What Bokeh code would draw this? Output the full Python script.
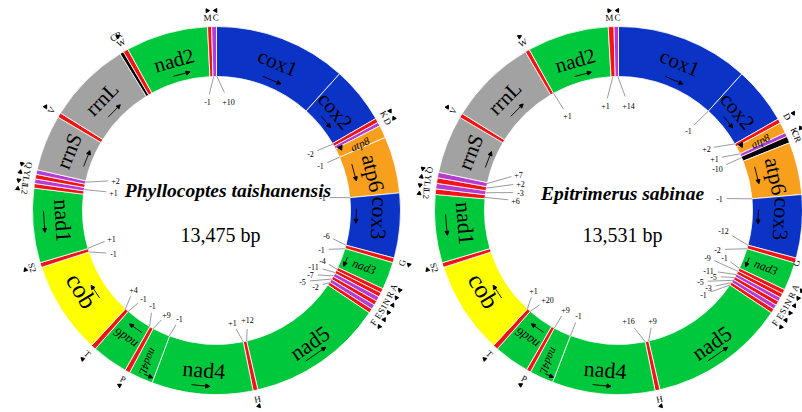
import math
from bokeh.plotting import figure
from bokeh.models import Range1d, ColumnDataSource, Arrow, NormalHead
from bokeh.core.properties import value
from bokeh.embed import file_html
from bokeh.resources import INLINE

# ======================= DATA =======================
# Map positions are read off the circles: degrees clockwise from the top (0 = start of cox1).
GENES = ["cox1", "cox2", "atp8", "atp6", "cox3", "nad3", "nad5", "nad4",
         "nad4L", "nad6", "cob", "nad1", "rrnS", "rrnL", "nad2"]
GENE_STRAND = [1, 1, 1, 1, 1, 1, -1, -1, -1, 1, 1, -1, 1, 1, 1]

# --- Phyllocoptes taishanensis ---
A_species = "Phyllocoptes taishanensis"
A_length = "13,475 bp"
A_feature = ["cox1", "cox2", "K", "D", "atp8", "atp6", "cox3", "G", "nad3",
             "A", "R", "N", "S1", "E", "F", "nad5", "H", "nad4", "nad4L", "P",
             "nad6", "T", "cob", "S2", "nad1", "L2", "L1", "Y", "Q", "rrnS",
             "V", "rrnL", "CR", "W", "nad2", "M", "C"]
A_type = ["cox", "cox", "trnJ", "trnN", "atp", "atp", "cox", "trnJ", "nad",
          "trnJ", "trnJ", "trnN", "trnJ", "trnN", "trnJ", "nad", "trnJ", "nad", "nad", "trnJ",
          "nad", "trnJ", "cob", "trnJ", "nad", "trnJ", "trnN", "trnJ", "trnN", "rrn",
          "trnJ", "rrn", "cr", "trnJ", "nad", "trnJ", "trnN"]
A_start = [0.0, 42.0, 60.0, 61.4, 62.6, 66.6, 84.5, 105.0, 106.5,
           115.2, 116.6, 118.0, 119.5, 120.9, 122.4, 123.8, 167.0, 168.5, 200.5, 208.2,
           209.8, 221.2, 222.8, 252.0, 253.5, 277.0, 278.45, 279.9, 281.35, 282.8,
           300.5, 302.0, 328.4, 329.6, 331.2, 357.2, 358.5]
A_gap_value = [-1, 10, -2, -1, -1, -6, -1, -4, -11, -7, -5, -2, 1, 12, 4, -1, -1, 9, -1, 1, -1, 2, 1]
A_gap_pos = [358.8, 0.2, 60.3, 66.6, 84.5, 105.0, 106.6, 116.0, 117.6, 119.2, 120.8, 122.6,
             168.5, 167.0, 222.8, 221.2, 210.0, 208.2, 200.6, 253.6, 252.0, 282.2, 279.0]

# --- Epitrimerus sabinae ---
B_species = "Epitrimerus sabinae"
B_length = "13,531 bp"
B_feature = ["cox1", "cox2", "D", "atp8", "K", "CR", "atp6", "cox3", "G", "nad3",
             "A", "R", "N", "S1", "E", "F", "nad5", "H", "nad4", "nad4L", "P",
             "nad6", "T", "cob", "S2", "nad1", "L2", "L1", "Y", "Q", "rrnS",
             "V", "rrnL", "W", "nad2", "M", "C"]
B_type = ["cox", "cox", "trnJ", "atp", "trnN", "cr", "atp", "cox", "trnJ", "nad",
          "trnJ", "trnJ", "trnN", "trnJ", "trnN", "trnJ", "nad", "trnJ", "nad", "nad", "trnJ",
          "nad", "trnJ", "cob", "trnJ", "nad", "trnJ", "trnN", "trnJ", "trnN", "rrn",
          "trnJ", "rrn", "trnJ", "nad", "trnJ", "trnN"]
B_start = [0.0, 42.1, 60.2, 61.6, 65.0, 66.3, 68.4, 85.0, 105.0, 106.6,
           115.5, 116.9, 118.3, 119.6, 121.0, 122.4, 123.8, 167.0, 168.5, 201.0, 208.6,
           210.0, 221.2, 222.8, 252.0, 253.5, 275.0, 276.75, 278.5, 280.25, 282.0,
           300.4, 301.8, 329.6, 331.0, 356.8, 358.6]
B_gap_value = [1, 14, -1, 2, 1, -10, -1, -12, -2, -1, -9, -11, -5, -5, -3, -1,
               16, 9, 1, 20, 9, -1, 1, 7, 2, -3, 6]
B_gap_pos = [357.6, 359.7, 42.1, 60.2, 65.0, 66.8, 85.0, 105.0, 106.6, 115.6, 117.0, 118.6,
             120.0, 121.4, 122.6, 123.8, 168.5, 167.0, 222.8, 221.2, 208.6, 201.0,
             331.0, 281.6, 279.6, 277.6, 275.6]

# ======================= LAYOUT / STYLE =======================
WIDTH, HEIGHT = 802, 412
R_IN, R_OUT = 134, 184
SERIF = value("Liberation Serif")
COLORS = {"cox": "#0b34c6", "nad": "#00c83c", "atp": "#f8a01e", "cob": "#ffff00",
          "rrn": "#a2a2a2", "trnJ": "#f01414", "trnN": "#b43cd2", "cr": "#000000"}

# gene label: mode, text radius, font px, italic, text shift (deg), arrow radius, arrow span (deg), arrow shift (deg)
GENE_LAYOUT = {
    "cox1": ("cw", 160, 21, False, 1.5, 142, 8, 2.0),
    "cox2": ("cw", 155, 21, False, -1.0, 141, 6, 0.0),
    "atp8": ("radial", 158, 11, True, 0.5, 139, 0, 0.0),
    "atp6": ("cw", 161, 22, False, 1.0, 143, 7, -1.0),
    "cox3": ("cw", 163, 22, False, -2.0, 140, 6, -2.5),
    "nad3": ("radial", 158, 12, True, 0.0, 139, 4, 0.8),
    "nad5": ("flip", 162, 22, False, -0.5, 175, 8, 0.0),
    "nad4": ("flip", 160, 22, False, 0.0, 176, 6, 0.7),
    "nad4L": ("radial", 166, 11, True, 0.0, 179, 3, -2.0),
    "nad6": ("cw", 157, 13, True, 0.0, 143, 6, -1.0),
    "cob": ("flip", 157, 25, False, 1.8, 146, 6, -1.2),
    "nad1": ("flip", 154, 22, False, 1.0, 173, 7, 1.0),
    "rrnS": ("cw", 159, 21, False, 0.3, 140, 7, 0.2),
    "rrnL": ("cw", 160, 21, False, -1.0, 143, 7, -1.0),
    "nad2": ("cw", 156, 21, False, 0.0, 141, 7, 1.5),
}

# spacer-number placements (pixel offsets from ring centre, x right / y down)
A_gap_xy = [(-9, -109), (12, -109), (94, -57), (104, -45), (106, -13), (110, 25), (105, 39),
            (106, 50), (97, 56), (94, 64), (86, 71), (99, 76), (16, 112), (31, 109),
            (-83, 79), (-73, 88), (-64, 95), (-50, 104), (-37, 108), (-105, 28), (-103, 43),
            (-101, -30), (-103, -18)]
B_gap_xy = [(-13, -105), (10, -105), (70, -80), (88, -62), (96, -52), (99, -42), (101, -12),
            (105, 20), (99, 39), (106, 47), (89, 47), (90, 60), (95, 66), (82, 71), (90, 77),
            (85, 84), (10, 110), (34, 110), (-85, 80), (-71, 89), (-53, 99), (-40, 105),
            (-51, -95), (-100, -36), (-98, -27), (-98, -18), (-103, -10)]

p = figure(width=WIDTH, height=HEIGHT, x_range=Range1d(0, WIDTH), y_range=Range1d(0, HEIGHT),
           x_axis_type=None, y_axis_type=None, toolbar_location=None, output_backend="svg",
           min_border=0, outline_line_color=None)
p.background_fill_color = "white"
p.border_fill_color = "white"


def pt(c, r, th):
    t = math.radians(th)
    return c[0] + r * math.sin(t), c[1] + r * math.cos(t)


def draw(c, feature, ftype, start, gap_value, gap_pos, gap_xy, species, length, sp_dx, sp_dy):
    n = len(feature)
    end = start[1:] + [360.0]
    p.annular_wedge(x=[c[0]] * n, y=[c[1]] * n, inner_radius=R_IN, outer_radius=R_OUT,
                    start_angle=[math.radians(90 - e) for e in end],
                    end_angle=[math.radians(90 - s) for s in start],
                    direction="anticlock", fill_color=[COLORS[t] for t in ftype],
                    line_color="white", line_width=0.8)

    # gene names and strand arrows
    arr = dict(x0=[], y0=[], x1=[], y1=[])
    for i, name in enumerate(feature):
        if name not in GENES:
            continue
        mid = (start[i] + end[i]) / 2
        mode, tr, fs, it, dt, ar, span, da = GENE_LAYOUT[name]
        th = mid + dt
        x, y = pt(c, tr, th)
        ang = -th if mode == "cw" else (180 - th if mode == "flip" else 90 - th)
        p.text(x=[x], y=[y], text=[name], angle=math.radians(ang), text_align="center",
               text_baseline="middle", text_font=SERIF, text_font_size=f"{fs}px",
               text_font_style="italic" if it else "normal", text_color="black")
        strand = GENE_STRAND[GENES.index(name)]
        tha = mid + da
        if span > 0:
            x0, y0 = pt(c, ar, tha - strand * span / 2)
            x1, y1 = pt(c, ar, tha + strand * span / 2)
            arr["x0"].append(x0); arr["y0"].append(y0)
            arr["x1"].append(x1); arr["y1"].append(y1)
        else:
            tx, ty = pt(c, ar, tha - 1.5)
            ta = (-tha - 90) if strand > 0 else (90 - tha)
            p.scatter(x=[tx], y=[ty], marker="triangle", size=5, angle=math.radians(ta),
                      fill_color="black", line_color="black")
    p.add_layout(Arrow(end=NormalHead(size=4, fill_color="black", line_color="black", line_width=1),
                       x_start="x0", y_start="y0", x_end="x1", y_end="y1",
                       source=ColumnDataSource(arr), line_color="black", line_width=0.9))

    # tRNA / control region labels outside the ring
    small = [i for i, t in enumerate(ftype) if t in ("trnJ", "trnN")]
    groups = []
    for i in small:
        if groups and groups[-1][-1] == i - 1:
            groups[-1].append(i)
        else:
            groups.append([i])
    placed = []
    for g in groups:
        mids = [(start[i] + end[i]) / 2 for i in g]
        cen = sum(mids) / len(mids)
        for k, i in enumerate(g):
            placed.append((i, cen + (k - (len(g) - 1) / 2) * 2.4, 193))
    for i, t in enumerate(ftype):
        if t == "cr":
            placed.append((i, (start[i] + end[i]) / 2 + 1.0, 201))
    lx, ly, lt, la = [], [], [], []
    trx, tr_y, tra = [], [], []
    for i, th, r in placed:
        x, y = pt(c, r, th)
        lx.append(min(x, WIDTH - 6)); ly.append(y); lt.append(feature[i])
        la.append(math.radians(180 - th if 90 < th < 290 else -th))
        if ftype[i] != "cr":
            x2, y2 = pt(c, r + 7, th)
            trx.append(x2); tr_y.append(y2)
            tra.append(math.radians((-th - 90) if ftype[i] == "trnJ" else (90 - th)))
    p.text(x=lx, y=ly, text=lt, angle=la, text_align="center", text_baseline="middle",
           text_font=SERIF, text_font_size="9px", text_color="black")
    p.scatter(x=trx, y=tr_y, angle=tra, marker="triangle", size=4,
              fill_color="black", line_color="black")

    # spacer / overlap numbers with leader lines
    sx0, sy0, sx1, sy1, nx, ny, nt = [], [], [], [], [], [], []
    for v, th, (dx, dy) in zip(gap_value, gap_pos, gap_xy):
        s = f"{v:+d}"
        tx, ty = c[0] + dx, c[1] - dy
        ax, ay = pt(c, R_IN, th)
        vx, vy = ax - tx, ay - ty
        d = math.hypot(vx, vy)
        off = 3 + 2.2 * len(s)
        sx0.append(ax); sy0.append(ay)
        sx1.append(tx + vx / d * off); sy1.append(ty + vy / d * off)
        nx.append(tx); ny.append(ty); nt.append(s)
    p.segment(x0=sx0, y0=sy0, x1=sx1, y1=sy1, line_color="#555555", line_width=0.6)
    p.text(x=nx, y=ny, text=nt, text_align="center", text_baseline="middle",
           text_font=SERIF, text_font_size="8px", text_color="black")

    # centre texts
    p.text(x=[c[0] + sp_dx], y=[c[1] + sp_dy], text=[species], text_align="center",
           text_baseline="alphabetic", text_font=SERIF, text_font_size="19.5px",
           text_font_style="bold italic", text_color="black")
    p.text(x=[c[0] + 4], y=[c[1] - 24], text=[length], text_align="center",
           text_baseline="alphabetic", text_font=SERIF, text_font_size="20px",
           text_color="black")


draw((216, 202), A_feature, A_type, A_start, A_gap_value, A_gap_pos, A_gap_xy,
     A_species, A_length, 11.5, 20)
draw((618, 202), B_feature, B_type, B_start, B_gap_value, B_gap_pos, B_gap_xy,
     B_species, B_length, 4, 17)

open("out.html", "w").write(file_html(p, INLINE))
